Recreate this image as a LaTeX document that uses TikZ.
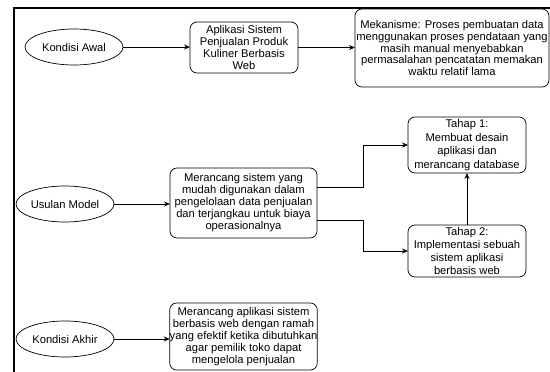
\documentclass[tikz,border=0pt]{standalone}
\usepackage{fontspec}
\setmainfont{Liberation Sans}
\usetikzlibrary{shapes.geometric,arrows.meta,calc}
\begin{document}
\begin{tikzpicture}[x=1pt,y=-1pt,
  every node/.style={font=\fontsize{11.2}{12}\selectfont, inner sep=0pt, outer sep=0pt},
  ell/.style={draw, ellipse, line width=0.7pt, minimum width=98pt, minimum height=36pt},
  rbox/.style={draw, rounded corners=7pt, line width=0.7pt, align=center},
  conn/.style={line width=0.7pt, -{Stealth[length=6pt,width=5pt]}}
]
\useasboundingbox (0,0) rectangle (550,372);
\draw[line width=1.6pt] (14,372) -- (14,8) -- (550,8);

\node[ell] (ka) at (74,47) {Kondisi Awal};
\node[rbox, minimum width=108pt, minimum height=51pt] (app) at (244,47.5)
  {Aplikasi Sistem\\Penjualan Produk\\Kuliner Berbasis\\Web};
\node[rbox, minimum width=194pt, minimum height=78pt, font=\fontsize{11.2}{11.8}\selectfont] (mek) at (452,48)
  {Mekanisme: Proses pembuatan data\\menggunakan proses pendataan yang\\masih manual menyebabkan\\permasalahan pencatatan memakan\\waktu relatif lama};

\node[ell] (um) at (65,204) {Usulan Model};
\node[rbox, minimum width=147pt, minimum height=70pt] (ms) at (243.5,203)
  {Merancang sistem yang\\mudah digunakan dalam\\pengelolaan data penjualan\\dan terjangkau untuk biaya\\operasionalnya};
\node[rbox, minimum width=118pt, minimum height=56pt, font=\fontsize{11.2}{13.5}\selectfont] (t1) at (467,145)
  {Tahap 1:\\Membuat desain\\aplikasi dan\\merancang database};
\node[rbox, minimum width=118pt, minimum height=52pt, font=\fontsize{11.2}{13}\selectfont] (t2) at (467,251)
  {Tahap 2:\\Implementasi sebuah\\sistem aplikasi\\berbasis web};

\node[ell] (kak) at (65,339) {Kondisi Akhir};
\node[rbox, minimum width=147pt, minimum height=67pt] (ma) at (243.5,336.5)
  {Merancang aplikasi sistem\\berbasis web dengan ramah\\yang efektif ketika dibutuhkan\\agar pemilik toko dapat\\mengelola penjualan};

\coordinate (j) at (363,0);
\draw[conn] (ka.east) -- (ka.east -| app.west);
\draw[conn] (app.east) -- (app.east -| mek.west);
\draw[conn] (um.east) -- (um.east -| ms.west);
\draw[conn] (kak.east) -- (kak.east -| ma.west);
\draw[conn] (ms.east |- 0,187) -- (j |- 0,187) |- (t1.west);
\draw[conn] (ms.east |- 0,220) -- (j |- 0,220) |- (t2.west);
\draw[conn] (t2.north) -- (t1.south);
\end{tikzpicture}
\end{document}
